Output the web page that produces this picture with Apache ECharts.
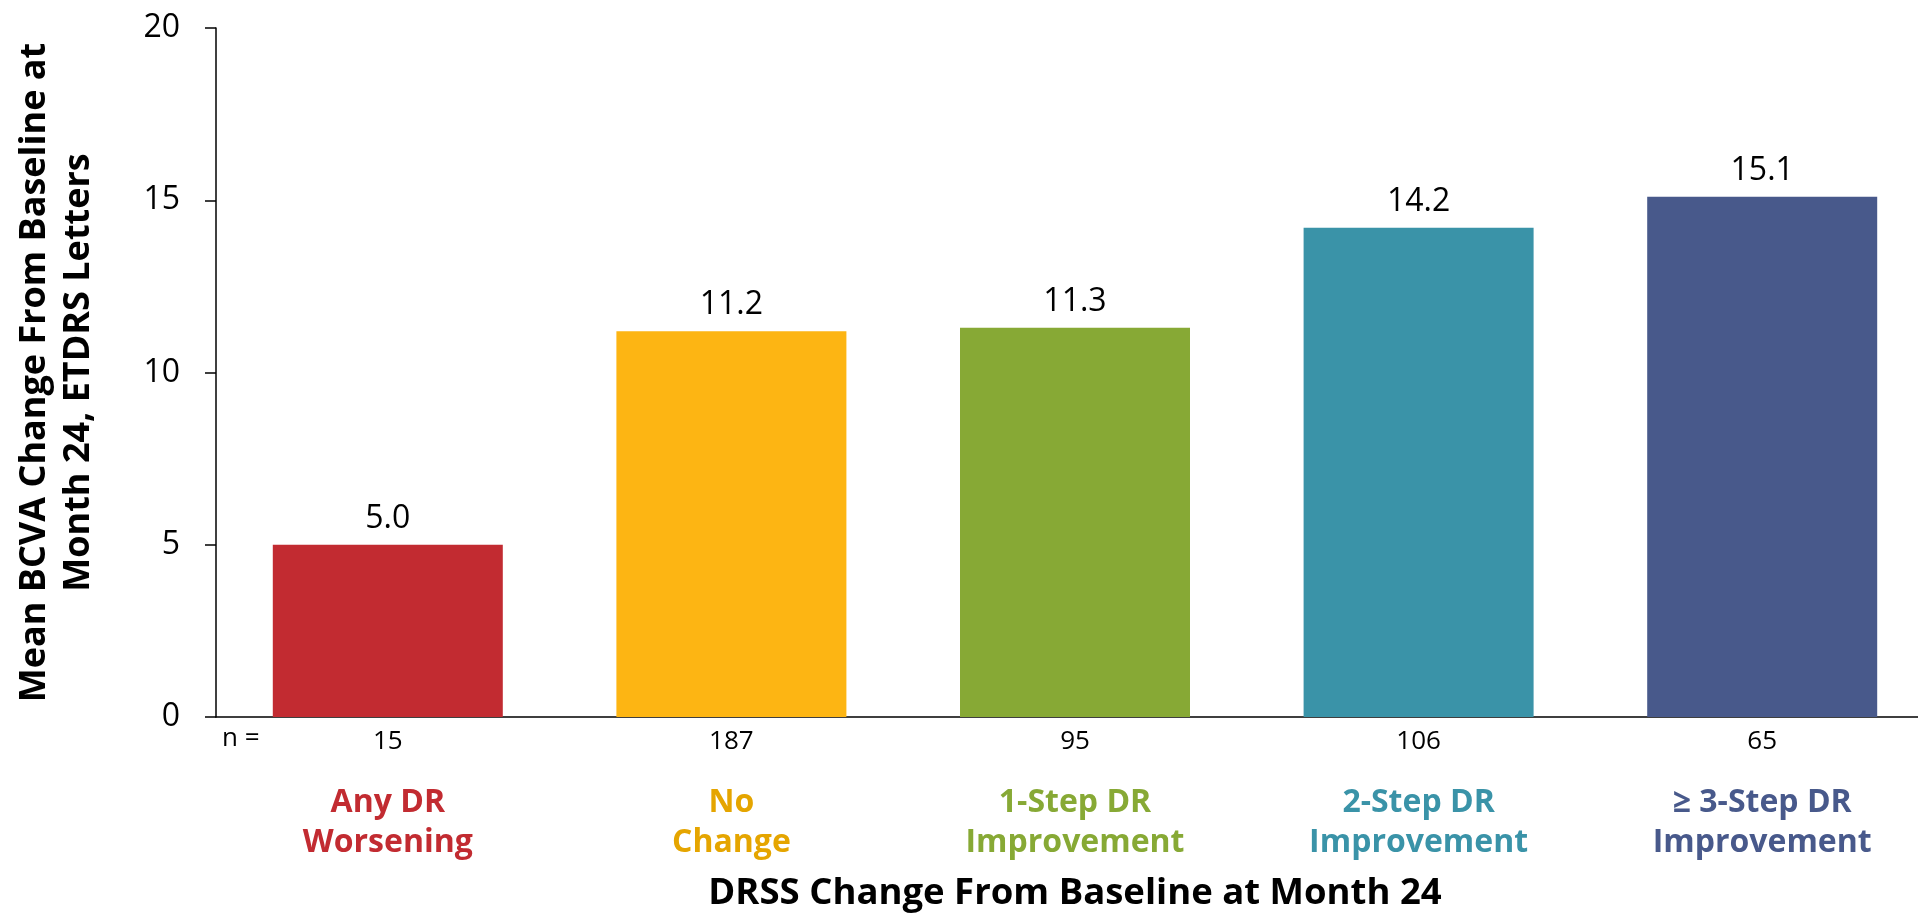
<!DOCTYPE html>
<html>
<head>
<meta charset="utf-8">
<title>BCVA change by DRSS change</title>
<script src="https://cdn.jsdelivr.net/npm/echarts@6/dist/echarts.min.js"></script>
<style>
  html, body { margin: 0; padding: 0; background: #fff; }
  #chart { width: 1918px; height: 915px; }
</style>
</head>
<body>
<div id="chart"></div>
<script>
// categories (two-line labels), values, group sizes
var categories = ['Any DR\nWorsening', 'No\nChange', '1-Step DR\nImprovement', '2-Step DR\nImprovement', '≥ 3-Step DR\nImprovement'];
var meanChange = [5.0, 11.2, 11.3, 14.2, 15.1];
var nValues = ['15', '187', '95', '106', '65'];
var yTicks = [0, 5, 10, 15, 20];

var barColors = ['#C22B31', '#FDB513', '#87A935', '#3A93A8', '#48598B'];
var labelColors = ['#C22B31', '#E5A500', '#87A935', '#3A93A8', '#48598B'];

var font = '"Open Sans", "Noto Sans", sans-serif';

var chart = echarts.init(document.getElementById('chart'));
chart.setOption({
  animation: false,
  backgroundColor: '#fff',
  // plot area runs past the right edge, like the original
  grid: { left: 216, top: 28, width: 1718, height: 689, containLabel: false, outerBoundsMode: 'none' },
  xAxis: [
    {
      type: 'category',
      data: categories,
      position: 'bottom',
      axisLine: { lineStyle: { color: '#000', width: 1.5 } },
      axisTick: { show: false },
      axisLabel: {
        interval: 0,
        margin: 66,
        fontFamily: font,
        fontWeight: 'bold',
        fontSize: 32,
        lineHeight: 40,
        color: function (v, i) { return labelColors[i]; }
      },
      name: 'DRSS Change From Baseline at Month 24',
      nameLocation: 'middle',
      nameGap: 158,
      nameTextStyle: { fontFamily: font, fontWeight: 'bold', fontSize: 36.5, color: '#000' }
    },
    {
      // n row under the axis
      type: 'category',
      data: nValues,
      position: 'bottom',
      axisLine: { show: false },
      axisTick: { show: false },
      axisLabel: { interval: 0, margin: 10, fontFamily: font, fontSize: 26, lineHeight: 30, color: '#000' }
    }
  ],
  yAxis: {
    type: 'value',
    min: yTicks[0],
    max: yTicks[yTicks.length - 1],
    interval: 5,
    splitLine: { show: false },
    axisLine: { show: true, lineStyle: { color: '#000', width: 1.5 } },
    axisTick: { show: true, length: 11, lineStyle: { color: '#000', width: 1.5 } },
    axisLabel: { margin: 36, fontFamily: font, fontSize: 32, color: '#000' },
    name: 'Mean BCVA Change From Baseline at\nMonth 24, ETDRS Letters',
    nameLocation: 'middle',
    nameRotate: 90,
    nameGap: 115,
    nameTextStyle: { fontFamily: font, fontWeight: 'bold', fontSize: 36, lineHeight: 44, color: '#000' }
  },
  series: [{
    type: 'bar',
    xAxisIndex: 0,
    barWidth: 230,
    data: meanChange.map(function (v, i) {
      return { value: v, itemStyle: { color: barColors[i] } };
    }),
    label: {
      show: true,
      position: 'top',
      distance: 10,
      fontFamily: font,
      fontSize: 32,
      color: '#000',
      formatter: function (p) { return p.value.toFixed(1); }
    }
  }],
  graphic: [{
    type: 'text',
    left: 222,
    top: 726,
    style: { text: 'n =', font: '26px ' + font, fill: '#000' }
  }]
});
</script>
</body>
</html>
